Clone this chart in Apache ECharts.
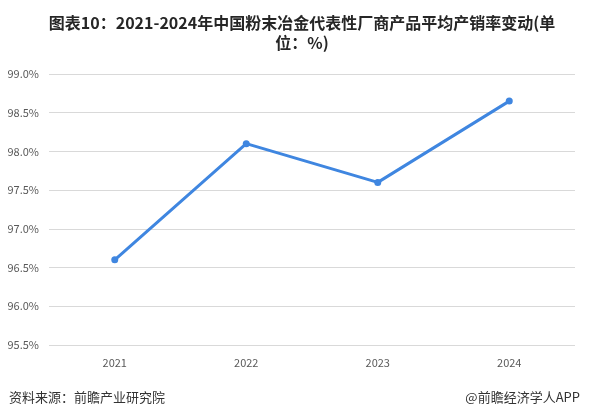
<!DOCTYPE html>
<html>
<head>
<meta charset="utf-8">
<script src="https://cdn.jsdelivr.net/npm/echarts@6/dist/echarts.min.js"></script>
<style>
  html, body { margin: 0; padding: 0; background: #fff; }
  #chart { width: 589px; height: 415px; }
</style>
</head>
<body>
<div id="chart"></div>
<script>
  // données
  const years = ['2021', '2022', '2023', '2024'];
  const rates = [96.6, 98.1, 97.6, 98.65];
  const yTicks = { min: 95.5, max: 99.0, step: 0.5 };

  const chart = echarts.init(document.getElementById('chart'));
  const FONT = '"Microsoft YaHei", "Noto Sans CJK SC", sans-serif';

  chart.setOption({
    textStyle: { fontFamily: FONT },
    title: [{
      text: '图表10：2021-2024年中国粉末冶金代表性厂商产品平均产销率变动(单\n位：%)',
      left: 297, top: 8,
      textAlign: 'center',
      textStyle: { fontSize: 16, fontWeight: 'bold', color: '#262626', lineHeight: 20, fontFamily: FONT }
    }, {
      text: '资料来源：前瞻产业研究院',
      left: 4, top: 386,
      textStyle: { fontSize: 13, fontWeight: 'normal', color: '#333', fontFamily: FONT }
    }, {
      text: '@前瞻经济学人APP',
      right: 4, top: 386,
      textStyle: { fontSize: 13, fontWeight: 'normal', color: '#333', fontFamily: FONT }
    }],
    grid: { left: 49, right: 14, top: 74, bottom: 70 },
    xAxis: {
      type: 'category',
      data: years,
      boundaryGap: true,
      axisLine: { show: false },
      axisTick: { show: false },
      axisLabel: { color: '#595959', fontSize: 11, margin: 12 }
    },
    yAxis: {
      type: 'value',
      min: yTicks.min, max: yTicks.max, interval: yTicks.step,
      axisLine: { show: false },
      axisTick: { show: false },
      axisLabel: { color: '#595959', fontSize: 11, margin: 10, formatter: (v) => v.toFixed(1) + '%' },
      splitLine: { lineStyle: { color: '#d9d9d9', width: 1 } }
    },
    series: [{
      type: 'line',
      data: rates,
      symbol: 'circle',
      symbolSize: 7,
      lineStyle: { color: '#3f86e0', width: 3 },
      itemStyle: { color: '#3f86e0' },
      animation: false
    }]
  });
</script>
</body>
</html>
